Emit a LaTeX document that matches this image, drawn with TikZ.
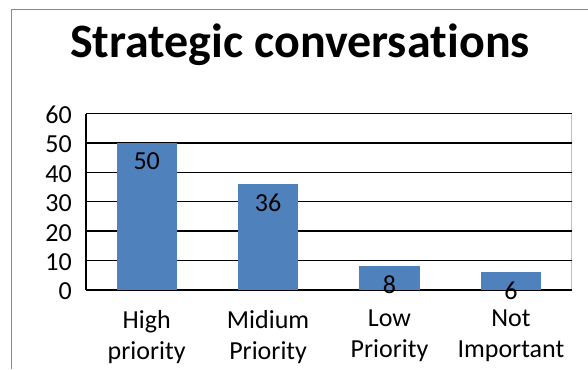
\documentclass[tikz,border=0pt]{standalone}
\usepackage{fontspec}
\setmainfont[Ligatures=NoCommon]{Carlito}
\begin{document}
\begin{tikzpicture}[x=1pt,y=-1pt,
  grid/.style={black,line width=1.4pt},
  bar/.style={fill=barblue,draw=none},
  ylab/.style={anchor=east,font=\fontsize{26}{30}\selectfont,inner sep=0pt},
  vlab/.style={font=\fontsize{26}{30}\selectfont,inner sep=0pt},
  clab/.style={font=\fontsize{26}{31}\selectfont,align=center,inner sep=0pt,anchor=north}]
\definecolor{barblue}{HTML}{4F81BD}
\definecolor{framegray}{HTML}{898989}
\useasboundingbox (0,0) rectangle (588,369);
\fill[white] (0,0) rectangle (588,369);
% frame
\draw[framegray,line width=1pt] (11,369) -- (11,10) -- (588,10);
% title
\node[anchor=base,font=\fontsize{48}{52}\selectfont\bfseries,inner sep=0pt] (title) at (300,57) {Strategic conversa\kern0pt tions};
% plot area
\draw[gray!50,line width=0.8pt] (571.7,113.5) -- (571.7,290);
\foreach \v in {0,10,...,60}{
  \draw[grid] (86,{290-\v*2.942}) -- (571.7,{290-\v*2.942});
  \node[ylab] (y\v) at (72,{291.5-\v*2.942}) {\v};
}
\draw[grid] (86,113.5) -- (86,290);
% bars
\foreach \i/\val/\name in {0/50/a,1/36/b,2/8/c,3/6/d}{
  \pgfmathsetmacro{\cx}{146.7+\i*121.4}
  \fill[bar] ({\cx-30.2},290) rectangle ({\cx+30.2},{290-\val*2.942});
  \node[vlab] (v\name) at (\cx,{290-\val*2.942+18.5}) {\val};
}
\node[clab] (ca) at (146.7,310) {High\\priority};
\node[clab] (cb) at (268.1,310) {Midium\\Priority};
\node[clab] (cc) at (389.5,310) {Low\\Priority};
\node[clab] (cd) at (510.9,310) {Not\\Important};
\end{tikzpicture}
\end{document}
